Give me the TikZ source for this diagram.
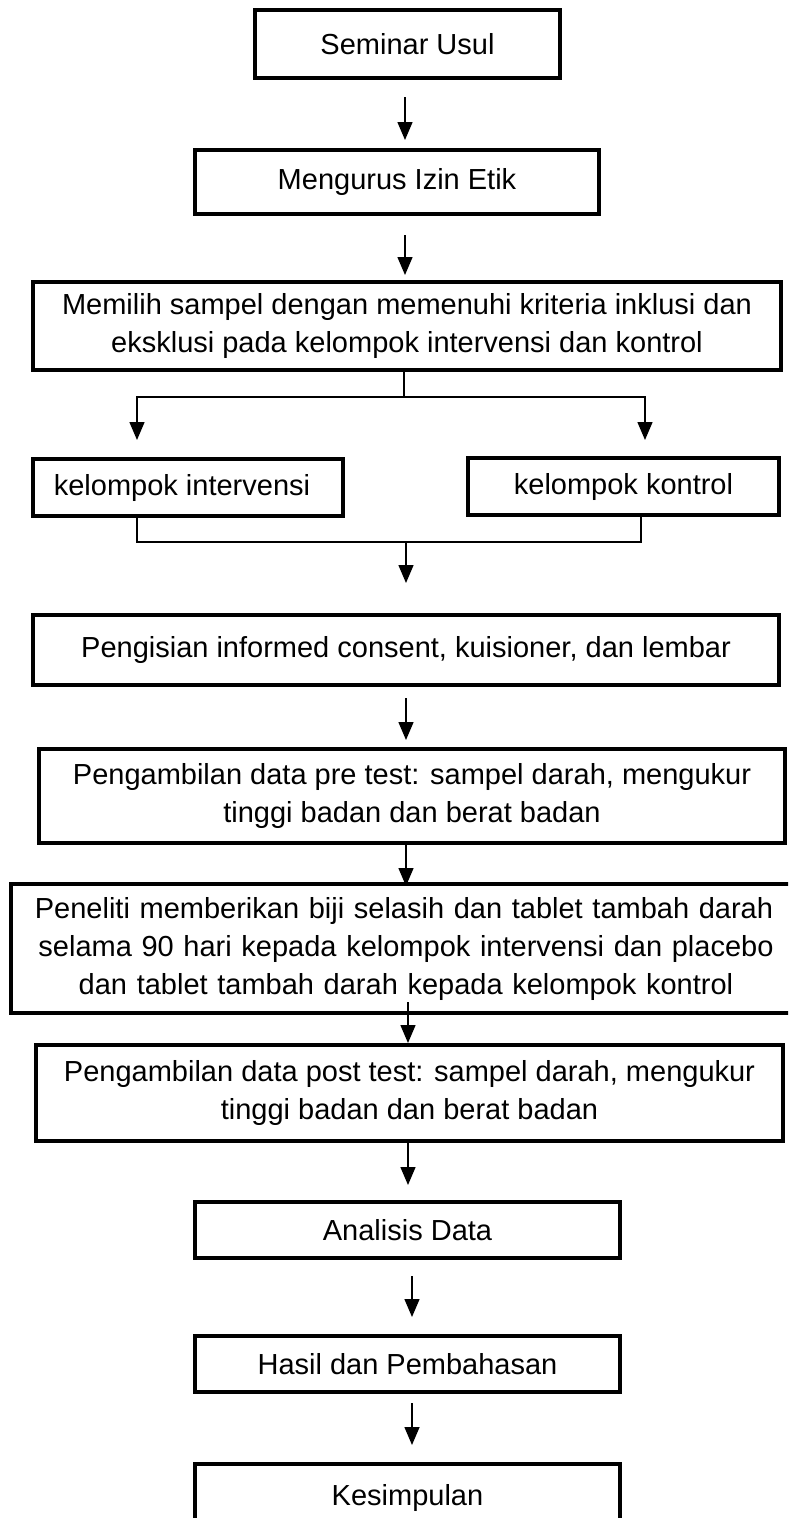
\documentclass[tikz,border=0pt]{standalone}
\usepackage{fontspec}
\setmainfont{Liberation Sans}
\usetikzlibrary{arrows.meta,calc}
\begin{document}
\begin{tikzpicture}[x=1pt,y=1pt,
  box/.style={draw=black,line width=4.5pt,rectangle,inner sep=0pt,outer sep=0pt,align=center,
    font=\fontsize{29}{38}\selectfont,fill=none},
  conn/.style={draw=black,line width=1.5pt},
  arr/.style={conn,-{Triangle[length=18pt,width=15pt]}}]
\useasboundingbox (0,0) rectangle (788,-1518);
\clip (0,0) rectangle (788,-1518);
\fill[white] (0,0) rectangle (788,-1518);
\node[box,minimum width=305,minimum height=68] (s1) at (407.5,-44) {Seminar Usul};
\node[box,minimum width=404,minimum height=64] (s2) at (397,-182) {Mengurus Izin Etik};
\node[box,minimum width=748,minimum height=88] (s3) at (407,-326) {Memilih sampel dengan memenuhi kriteria inklusi dan\\eksklusi pada kelompok intervensi dan kontrol};
\node[box,minimum width=310,minimum height=57] (ki) at (188,-487.5) {\hspace*{-12pt}kelompok intervensi};
\node[box,minimum width=311,minimum height=57] (kk) at (623.5,-486.5) {kelompok kontrol};
\node[box,minimum width=746,minimum height=70] (s4) at (406,-650) {Pengisian informed consent, kuisioner, dan lembar};
\node[box,minimum width=746,minimum height=94] (s5) at (412,-796) {Pengambilan data pre test: sampel darah, mengukur\\tinggi badan dan berat badan};
\node[box,minimum width=790,minimum height=129,text width=760] (s6) at (406,-948.5) {\hspace*{-4pt}Peneliti memberikan biji selasih dan tablet tambah darah\\selama 90 hari kepada kelompok intervensi dan placebo\\dan tablet tambah darah kepada kelompok kontrol};
\node[box,minimum width=747,minimum height=96] (s7) at (409.5,-1093) {Pengambilan data post test: sampel darah, mengukur\\tinggi badan dan berat badan};
\node[box,minimum width=425,minimum height=56] (s8) at (407.5,-1230) {Analisis Data};
\node[box,minimum width=425,minimum height=56] (s9) at (407.5,-1364) {Hasil dan Pembahasan};
\node[box,minimum width=425,minimum height=68] (s10) at (407.5,-1498) {Kesimpulan};
% arrows
\draw[arr] ($(s1.south)+(-2.5,-19)$) -- ($(s2.north)+(8,10)$);
\draw[arr] ($(s2.south)+(8,-21)$) -- ($(s3.north)+(-2,7)$);
\draw[conn] ($(s3.south)+(-3,0)$) -- ++(0,-27) coordinate (sp);
\draw[arr] (sp) -| ($(ki.north)+(-51,19)$);
\draw[arr] (sp) -| ($(kk.north)+(21.5,18)$);
\draw[conn] ($(ki.south)+(-51,0)$) |- ($(kk.south)+(17.5,-27)$) coordinate (mg) -- ($(kk.south)+(17.5,0)$);
\draw[arr] (mg -| s4.north) -- ($(s4.north)+(0,32)$);
\draw[arr] ($(s4.south)+(0,-13)$) -- ($(s5.north)+(-6,9)$);
\draw[arr] ($(s5.south)+(-6,-2)$) -- ($(s6.north)+(0,-2)$);
\draw[arr] ($(s6.south)+(2,11)$) -- ($(s7.north)+(-1.5,2)$);
\draw[arr] ($(s7.south)+(-1.5,-2)$) -- ($(s8.north)+(0.5,17)$);
\draw[arr] ($(s8.south)+(4.5,-18)$) -- ($(s9.north)+(4.5,19)$);
\draw[arr] ($(s9.south)+(4.5,-11)$) -- ($(s10.north)+(4.5,19)$);
\end{tikzpicture}
\end{document}
